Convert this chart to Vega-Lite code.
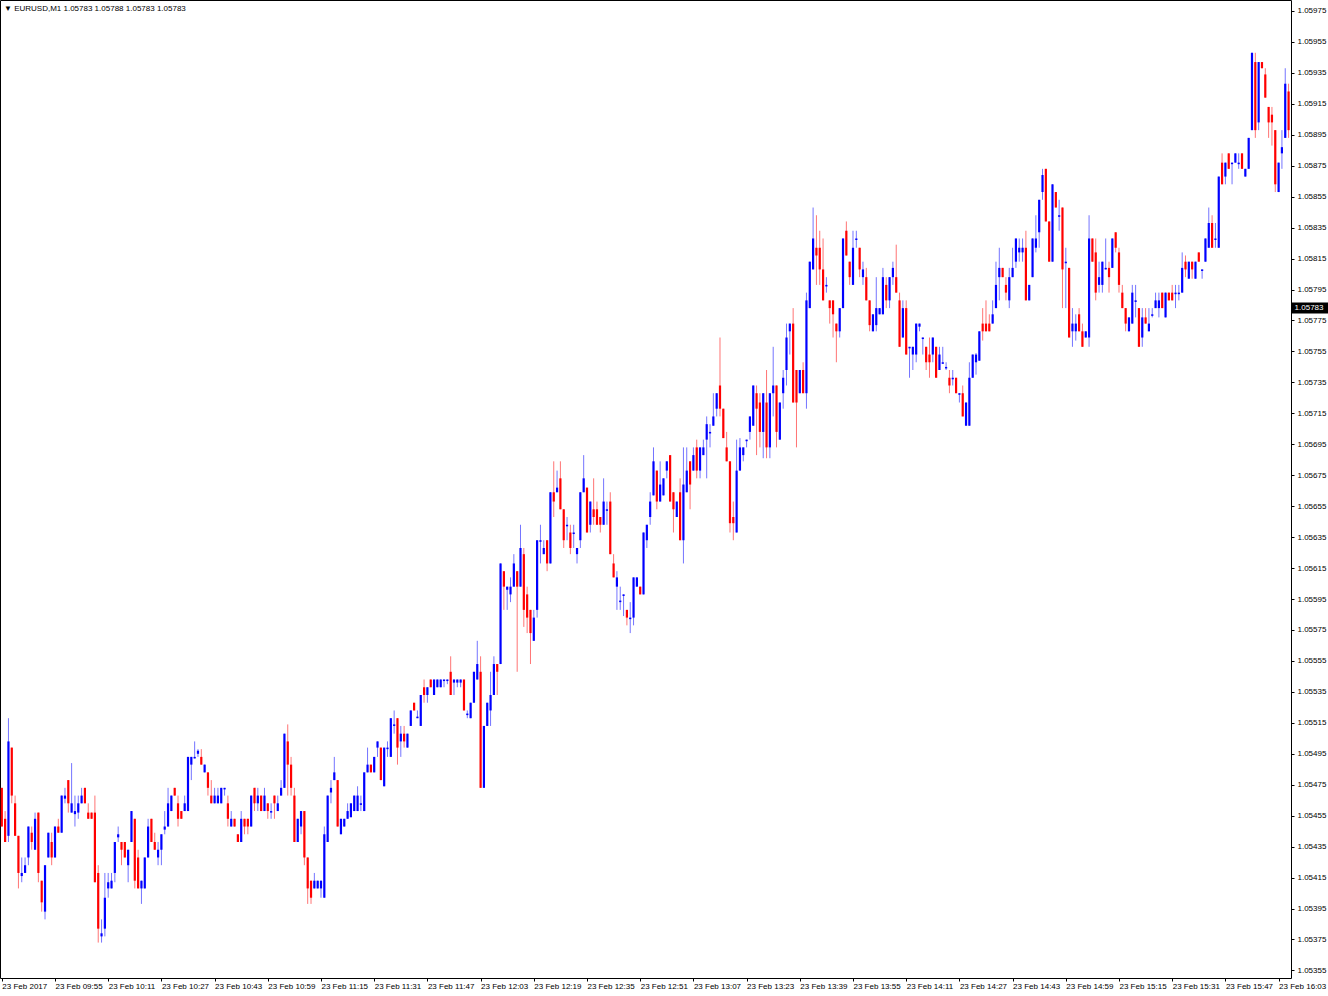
{
"$schema":"https://vega.github.io/schema/vega-lite/v6.json",
"width":1291,"height":978,
"autosize":{"type":"none"},
"padding":{"left":0,"top":0,"right":37,"bottom":18},
"background":"#ffffff",
"title":{"text":"▼ EURUSD,M1  1.05783 1.05788 1.05783 1.05783","anchor":"start","frame":"group","orient":"top","offset":-13,"fontSize":8,"font":"Liberation Sans","fontWeight":"normal","color":"#000000","dx":4},
"config":{"view":{"stroke":"#000000","strokeWidth":1},"font":"Liberation Sans","axis":{"labelFont":"Liberation Sans","labelFontSize":8,"labelColor":"#000000","tickColor":"#000000","domain":false,"grid":false,"title":null,"labelOverlap":false,"labelFlush":false,"labelBound":false}},
"data":{"values":[
{"t":0,"o":1.05473,"h":1.05473,"l":1.05448,"c":1.05448},
{"t":1,"o":1.05453,"h":1.05458,"l":1.05438,"c":1.05438},
{"t":2,"o":1.05442,"h":1.05518,"l":1.05438,"c":1.05503},
{"t":3,"o":1.05499,"h":1.05499,"l":1.05463,"c":1.05468},
{"t":4,"o":1.05463,"h":1.05468,"l":1.05442,"c":1.05442},
{"t":5,"o":1.05442,"h":1.05442,"l":1.05408,"c":1.05418},
{"t":6,"o":1.05416,"h":1.05428,"l":1.05412,"c":1.05418},
{"t":7,"o":1.05418,"h":1.05428,"l":1.05418,"c":1.05423},
{"t":8,"o":1.05428,"h":1.05448,"l":1.05423,"c":1.05448},
{"t":9,"o":1.05444,"h":1.05448,"l":1.05433,"c":1.05438},
{"t":10,"o":1.05433,"h":1.05457,"l":1.05433,"c":1.05453},
{"t":11,"o":1.05457,"h":1.05457,"l":1.05412,"c":1.05418},
{"t":12,"o":1.05413,"h":1.05413,"l":1.05393,"c":1.05399},
{"t":13,"o":1.05393,"h":1.05423,"l":1.05388,"c":1.05423},
{"t":14,"o":1.05428,"h":1.05444,"l":1.05428,"c":1.05444},
{"t":15,"o":1.05438,"h":1.05444,"l":1.05423,"c":1.05428},
{"t":16,"o":1.05428,"h":1.05448,"l":1.05428,"c":1.05448},
{"t":17,"o":1.05448,"h":1.05453,"l":1.05444,"c":1.05444},
{"t":18,"o":1.05444,"h":1.05468,"l":1.05444,"c":1.05468},
{"t":19,"o":1.05466,"h":1.05473,"l":1.05463,"c":1.05468},
{"t":20,"o":1.05478,"h":1.05478,"l":1.05457,"c":1.05463},
{"t":21,"o":1.05457,"h":1.05489,"l":1.05457,"c":1.05463},
{"t":22,"o":1.05456,"h":1.05468,"l":1.05448,"c":1.05458},
{"t":23,"o":1.05457,"h":1.05468,"l":1.05453,"c":1.05463},
{"t":24,"o":1.05463,"h":1.05473,"l":1.05463,"c":1.05468},
{"t":25,"o":1.05473,"h":1.05473,"l":1.05463,"c":1.05463},
{"t":26,"o":1.05457,"h":1.05463,"l":1.05453,"c":1.05453},
{"t":27,"o":1.05457,"h":1.05457,"l":1.05453,"c":1.05453},
{"t":28,"o":1.05457,"h":1.05468,"l":1.05412,"c":1.05412},
{"t":29,"o":1.05418,"h":1.05423,"l":1.05373,"c":1.05382},
{"t":30,"o":1.05377,"h":1.05388,"l":1.05373,"c":1.05379},
{"t":31,"o":1.05382,"h":1.05418,"l":1.05377,"c":1.05402},
{"t":32,"o":1.05408,"h":1.05418,"l":1.05402,"c":1.05412},
{"t":33,"o":1.05408,"h":1.05418,"l":1.05408,"c":1.05413},
{"t":34,"o":1.05418,"h":1.05438,"l":1.05412,"c":1.05438},
{"t":35,"o":1.05441,"h":1.05448,"l":1.05438,"c":1.05443},
{"t":36,"o":1.05438,"h":1.05438,"l":1.05423,"c":1.05433},
{"t":37,"o":1.05438,"h":1.05438,"l":1.05428,"c":1.05428},
{"t":38,"o":1.05423,"h":1.05433,"l":1.05412,"c":1.05433},
{"t":39,"o":1.05438,"h":1.05458,"l":1.05438,"c":1.05458},
{"t":40,"o":1.05453,"h":1.05453,"l":1.05408,"c":1.05413},
{"t":41,"o":1.05428,"h":1.05433,"l":1.05408,"c":1.05408},
{"t":42,"o":1.05408,"h":1.05413,"l":1.05398,"c":1.05413},
{"t":43,"o":1.05408,"h":1.05428,"l":1.05408,"c":1.05428},
{"t":44,"o":1.05428,"h":1.05453,"l":1.05428,"c":1.05448},
{"t":45,"o":1.05453,"h":1.05453,"l":1.05438,"c":1.05438},
{"t":46,"o":1.05438,"h":1.05444,"l":1.05433,"c":1.05433},
{"t":47,"o":1.05428,"h":1.05438,"l":1.05423,"c":1.05433},
{"t":48,"o":1.05433,"h":1.05443,"l":1.05423,"c":1.05443},
{"t":49,"o":1.05446,"h":1.05458,"l":1.05443,"c":1.05448},
{"t":50,"o":1.05448,"h":1.05473,"l":1.05448,"c":1.05463},
{"t":51,"o":1.05458,"h":1.05468,"l":1.05458,"c":1.05468},
{"t":52,"o":1.05473,"h":1.05473,"l":1.05468,"c":1.05468},
{"t":53,"o":1.05463,"h":1.05468,"l":1.05448,"c":1.05453},
{"t":54,"o":1.05458,"h":1.05458,"l":1.05453,"c":1.05453},
{"t":55,"o":1.05458,"h":1.05468,"l":1.05458,"c":1.05463},
{"t":56,"o":1.05458,"h":1.05493,"l":1.05458,"c":1.05493},
{"t":57,"o":1.05488,"h":1.05493,"l":1.05478,"c":1.05493},
{"t":58,"o":1.05492,"h":1.05503,"l":1.05492,"c":1.05493},
{"t":59,"o":1.05495,"h":1.05498,"l":1.05493,"c":1.05497},
{"t":60,"o":1.05493,"h":1.05498,"l":1.05488,"c":1.05488},
{"t":61,"o":1.05483,"h":1.05488,"l":1.05483,"c":1.05488},
{"t":62,"o":1.05483,"h":1.05483,"l":1.05468,"c":1.05473},
{"t":63,"o":1.05468,"h":1.05478,"l":1.05463,"c":1.05463},
{"t":64,"o":1.05463,"h":1.05473,"l":1.05463,"c":1.05468},
{"t":65,"o":1.05463,"h":1.05473,"l":1.05463,"c":1.05468},
{"t":66,"o":1.05463,"h":1.05473,"l":1.05463,"c":1.05473},
{"t":67,"o":1.05472,"h":1.05473,"l":1.05468,"c":1.05473},
{"t":68,"o":1.05463,"h":1.05468,"l":1.05448,"c":1.05453},
{"t":69,"o":1.05448,"h":1.05458,"l":1.05448,"c":1.05453},
{"t":70,"o":1.05453,"h":1.05453,"l":1.05448,"c":1.05448},
{"t":71,"o":1.05443,"h":1.05443,"l":1.05438,"c":1.05438},
{"t":72,"o":1.05438,"h":1.05458,"l":1.05438,"c":1.05453},
{"t":73,"o":1.05453,"h":1.05453,"l":1.05443,"c":1.05448},
{"t":74,"o":1.05453,"h":1.05453,"l":1.05443,"c":1.05448},
{"t":75,"o":1.05448,"h":1.05468,"l":1.05448,"c":1.05468},
{"t":76,"o":1.05473,"h":1.05473,"l":1.05458,"c":1.05463},
{"t":77,"o":1.05463,"h":1.05473,"l":1.05458,"c":1.05468},
{"t":78,"o":1.05468,"h":1.05468,"l":1.05458,"c":1.05458},
{"t":79,"o":1.05458,"h":1.05473,"l":1.05458,"c":1.05468},
{"t":80,"o":1.05463,"h":1.05463,"l":1.05453,"c":1.05458},
{"t":81,"o":1.05457,"h":1.05463,"l":1.05453,"c":1.05458},
{"t":82,"o":1.05468,"h":1.05468,"l":1.05453,"c":1.05463},
{"t":83,"o":1.05458,"h":1.05468,"l":1.05458,"c":1.05463},
{"t":84,"o":1.05468,"h":1.05478,"l":1.05468,"c":1.05473},
{"t":85,"o":1.05473,"h":1.05508,"l":1.05473,"c":1.05508},
{"t":86,"o":1.05503,"h":1.05514,"l":1.05468,"c":1.05488},
{"t":87,"o":1.05488,"h":1.05493,"l":1.05468,"c":1.05473},
{"t":88,"o":1.05468,"h":1.05473,"l":1.05438,"c":1.05438},
{"t":89,"o":1.05438,"h":1.05453,"l":1.05438,"c":1.05453},
{"t":90,"o":1.05448,"h":1.05458,"l":1.05443,"c":1.05458},
{"t":91,"o":1.05458,"h":1.05458,"l":1.05423,"c":1.05428},
{"t":92,"o":1.05428,"h":1.05428,"l":1.05398,"c":1.05408},
{"t":93,"o":1.05413,"h":1.05413,"l":1.05398,"c":1.05402},
{"t":94,"o":1.05408,"h":1.05418,"l":1.05408,"c":1.05413},
{"t":95,"o":1.05408,"h":1.05413,"l":1.05408,"c":1.05413},
{"t":96,"o":1.05408,"h":1.05413,"l":1.05402,"c":1.05413},
{"t":97,"o":1.05402,"h":1.05448,"l":1.05402,"c":1.05443},
{"t":98,"o":1.05438,"h":1.05468,"l":1.05438,"c":1.05468},
{"t":99,"o":1.05470,"h":1.05478,"l":1.05463,"c":1.05473},
{"t":100,"o":1.05478,"h":1.05493,"l":1.05478,"c":1.05483},
{"t":101,"o":1.05478,"h":1.05478,"l":1.05448,"c":1.05448},
{"t":102,"o":1.05443,"h":1.05453,"l":1.05443,"c":1.05453},
{"t":103,"o":1.05448,"h":1.05453,"l":1.05448,"c":1.05453},
{"t":104,"o":1.05453,"h":1.05463,"l":1.05453,"c":1.05458},
{"t":105,"o":1.05454,"h":1.05463,"l":1.05454,"c":1.05463},
{"t":106,"o":1.05458,"h":1.05468,"l":1.05458,"c":1.05468},
{"t":107,"o":1.05458,"h":1.05474,"l":1.05458,"c":1.05468},
{"t":108,"o":1.05462,"h":1.05468,"l":1.05458,"c":1.05463},
{"t":109,"o":1.05458,"h":1.05483,"l":1.05458,"c":1.05483},
{"t":110,"o":1.05483,"h":1.05499,"l":1.05483,"c":1.05488},
{"t":111,"o":1.05488,"h":1.05488,"l":1.05483,"c":1.05483},
{"t":112,"o":1.05483,"h":1.05493,"l":1.05483,"c":1.05493},
{"t":113,"o":1.05499,"h":1.05503,"l":1.05493,"c":1.05503},
{"t":114,"o":1.05499,"h":1.05499,"l":1.05478,"c":1.05478},
{"t":115,"o":1.05474,"h":1.05499,"l":1.05474,"c":1.05499},
{"t":116,"o":1.05498,"h":1.05503,"l":1.05493,"c":1.05499},
{"t":117,"o":1.05493,"h":1.05518,"l":1.05493,"c":1.05518},
{"t":118,"o":1.05513,"h":1.05523,"l":1.05508,"c":1.05514},
{"t":119,"o":1.05518,"h":1.05518,"l":1.05488,"c":1.05499},
{"t":120,"o":1.05503,"h":1.05513,"l":1.05493,"c":1.05508},
{"t":121,"o":1.05508,"h":1.05513,"l":1.05499,"c":1.05503},
{"t":122,"o":1.05499,"h":1.05508,"l":1.05499,"c":1.05508},
{"t":123,"o":1.05513,"h":1.05523,"l":1.05513,"c":1.05523},
{"t":124,"o":1.05528,"h":1.05528,"l":1.05523,"c":1.05523},
{"t":125,"o":1.05518,"h":1.05523,"l":1.05518,"c":1.05519},
{"t":126,"o":1.05513,"h":1.05533,"l":1.05513,"c":1.05533},
{"t":127,"o":1.05538,"h":1.05543,"l":1.05528,"c":1.05533},
{"t":128,"o":1.05533,"h":1.05538,"l":1.05528,"c":1.05538},
{"t":129,"o":1.05543,"h":1.05543,"l":1.05538,"c":1.05538},
{"t":130,"o":1.05533,"h":1.05543,"l":1.05533,"c":1.05543},
{"t":131,"o":1.05538,"h":1.05543,"l":1.05538,"c":1.05543},
{"t":132,"o":1.05538,"h":1.05543,"l":1.05538,"c":1.05543},
{"t":133,"o":1.05542,"h":1.05543,"l":1.05538,"c":1.05543},
{"t":134,"o":1.05542,"h":1.05543,"l":1.05540,"c":1.05543},
{"t":135,"o":1.05548,"h":1.05558,"l":1.05533,"c":1.05533},
{"t":136,"o":1.05541,"h":1.05543,"l":1.05533,"c":1.05543},
{"t":137,"o":1.05541,"h":1.05543,"l":1.05538,"c":1.05543},
{"t":138,"o":1.05541,"h":1.05543,"l":1.05538,"c":1.05543},
{"t":139,"o":1.05543,"h":1.05543,"l":1.05523,"c":1.05523},
{"t":140,"o":1.05520,"h":1.05523,"l":1.05518,"c":1.05521},
{"t":141,"o":1.05518,"h":1.05528,"l":1.05518,"c":1.05528},
{"t":142,"o":1.05528,"h":1.05548,"l":1.05528,"c":1.05548},
{"t":143,"o":1.05543,"h":1.05568,"l":1.05543,"c":1.05553},
{"t":144,"o":1.05548,"h":1.05558,"l":1.05473,"c":1.05473},
{"t":145,"o":1.05473,"h":1.05513,"l":1.05473,"c":1.05513},
{"t":146,"o":1.05513,"h":1.05528,"l":1.05513,"c":1.05528},
{"t":147,"o":1.05523,"h":1.05548,"l":1.05513,"c":1.05533},
{"t":148,"o":1.05533,"h":1.05558,"l":1.05533,"c":1.05553},
{"t":149,"o":1.05553,"h":1.05553,"l":1.05533,"c":1.05548},
{"t":150,"o":1.05553,"h":1.05618,"l":1.05553,"c":1.05618},
{"t":151,"o":1.05613,"h":1.05613,"l":1.05588,"c":1.05603},
{"t":152,"o":1.05601,"h":1.05603,"l":1.05588,"c":1.05603},
{"t":153,"o":1.05598,"h":1.05609,"l":1.05593,"c":1.05603},
{"t":154,"o":1.05603,"h":1.05624,"l":1.05603,"c":1.05618},
{"t":155,"o":1.05613,"h":1.05613,"l":1.05548,"c":1.05603},
{"t":156,"o":1.05603,"h":1.05643,"l":1.05603,"c":1.05628},
{"t":157,"o":1.05624,"h":1.05628,"l":1.05577,"c":1.05588},
{"t":158,"o":1.05598,"h":1.05603,"l":1.05573,"c":1.05583},
{"t":159,"o":1.05588,"h":1.05588,"l":1.05553,"c":1.05573},
{"t":160,"o":1.05568,"h":1.05588,"l":1.05568,"c":1.05583},
{"t":161,"o":1.05588,"h":1.05633,"l":1.05583,"c":1.05633},
{"t":162,"o":1.05632,"h":1.05643,"l":1.05618,"c":1.05633},
{"t":163,"o":1.05624,"h":1.05633,"l":1.05624,"c":1.05628},
{"t":164,"o":1.05633,"h":1.05633,"l":1.05613,"c":1.05618},
{"t":165,"o":1.05618,"h":1.05664,"l":1.05618,"c":1.05664},
{"t":166,"o":1.05664,"h":1.05684,"l":1.05648,"c":1.05658},
{"t":167,"o":1.05664,"h":1.05678,"l":1.05664,"c":1.05667},
{"t":168,"o":1.05673,"h":1.05684,"l":1.05653,"c":1.05653},
{"t":169,"o":1.05653,"h":1.05653,"l":1.05628,"c":1.05633},
{"t":170,"o":1.05642,"h":1.05648,"l":1.05633,"c":1.05643},
{"t":171,"o":1.05638,"h":1.05643,"l":1.05624,"c":1.05628},
{"t":172,"o":1.05637,"h":1.05643,"l":1.05628,"c":1.05638},
{"t":173,"o":1.05624,"h":1.05628,"l":1.05618,"c":1.05628},
{"t":174,"o":1.05633,"h":1.05664,"l":1.05628,"c":1.05664},
{"t":175,"o":1.05664,"h":1.05688,"l":1.05664,"c":1.05673},
{"t":176,"o":1.05667,"h":1.05667,"l":1.05638,"c":1.05638},
{"t":177,"o":1.05643,"h":1.05658,"l":1.05638,"c":1.05658},
{"t":178,"o":1.05653,"h":1.05673,"l":1.05643,"c":1.05648},
{"t":179,"o":1.05653,"h":1.05658,"l":1.05643,"c":1.05643},
{"t":180,"o":1.05648,"h":1.05648,"l":1.05638,"c":1.05643},
{"t":181,"o":1.05643,"h":1.05673,"l":1.05643,"c":1.05658},
{"t":182,"o":1.05652,"h":1.05658,"l":1.05643,"c":1.05653},
{"t":183,"o":1.05658,"h":1.05664,"l":1.05624,"c":1.05624},
{"t":184,"o":1.05618,"h":1.05624,"l":1.05609,"c":1.05609},
{"t":185,"o":1.05603,"h":1.05613,"l":1.05588,"c":1.05609},
{"t":186,"o":1.05593,"h":1.05603,"l":1.05588,"c":1.05594},
{"t":187,"o":1.05597,"h":1.05598,"l":1.05584,"c":1.05598},
{"t":188,"o":1.05588,"h":1.05588,"l":1.05578,"c":1.05583},
{"t":189,"o":1.05582,"h":1.05593,"l":1.05573,"c":1.05583},
{"t":190,"o":1.05583,"h":1.05609,"l":1.05578,"c":1.05609},
{"t":191,"o":1.05603,"h":1.05609,"l":1.05603,"c":1.05609},
{"t":192,"o":1.05603,"h":1.05603,"l":1.05598,"c":1.05598},
{"t":193,"o":1.05598,"h":1.05638,"l":1.05598,"c":1.05638},
{"t":194,"o":1.05633,"h":1.05643,"l":1.05628,"c":1.05643},
{"t":195,"o":1.05648,"h":1.05664,"l":1.05643,"c":1.05658},
{"t":196,"o":1.05662,"h":1.05693,"l":1.05662,"c":1.05684},
{"t":197,"o":1.05678,"h":1.05678,"l":1.05653,"c":1.05658},
{"t":198,"o":1.05658,"h":1.05684,"l":1.05658,"c":1.05669},
{"t":199,"o":1.05662,"h":1.05673,"l":1.05662,"c":1.05673},
{"t":200,"o":1.05678,"h":1.05684,"l":1.05673,"c":1.05684},
{"t":201,"o":1.05688,"h":1.05688,"l":1.05658,"c":1.05658},
{"t":202,"o":1.05664,"h":1.05664,"l":1.05638,"c":1.05653},
{"t":203,"o":1.05648,"h":1.05658,"l":1.05648,"c":1.05658},
{"t":204,"o":1.05664,"h":1.05673,"l":1.05633,"c":1.05633},
{"t":205,"o":1.05633,"h":1.05693,"l":1.05618,"c":1.05669},
{"t":206,"o":1.05664,"h":1.05693,"l":1.05664,"c":1.05678},
{"t":207,"o":1.05684,"h":1.05684,"l":1.05653,"c":1.05669},
{"t":208,"o":1.05678,"h":1.05693,"l":1.05678,"c":1.05688},
{"t":209,"o":1.05693,"h":1.05698,"l":1.05673,"c":1.05678},
{"t":210,"o":1.05678,"h":1.05693,"l":1.05673,"c":1.05693},
{"t":211,"o":1.05688,"h":1.05698,"l":1.05688,"c":1.05693},
{"t":212,"o":1.05698,"h":1.05713,"l":1.05673,"c":1.05708},
{"t":213,"o":1.05702,"h":1.05708,"l":1.05693,"c":1.05703},
{"t":214,"o":1.05707,"h":1.05728,"l":1.05707,"c":1.05713},
{"t":215,"o":1.05718,"h":1.05728,"l":1.05713,"c":1.05728},
{"t":216,"o":1.05733,"h":1.05764,"l":1.05713,"c":1.05718},
{"t":217,"o":1.05718,"h":1.05718,"l":1.05699,"c":1.05699},
{"t":218,"o":1.05693,"h":1.05703,"l":1.05684,"c":1.05684},
{"t":219,"o":1.05684,"h":1.05684,"l":1.05638,"c":1.05644},
{"t":220,"o":1.05648,"h":1.05658,"l":1.05633,"c":1.05644},
{"t":221,"o":1.05638,"h":1.05698,"l":1.05638,"c":1.05678},
{"t":222,"o":1.05678,"h":1.05699,"l":1.05678,"c":1.05693},
{"t":223,"o":1.05688,"h":1.05693,"l":1.05684,"c":1.05693},
{"t":224,"o":1.05697,"h":1.05698,"l":1.05693,"c":1.05698},
{"t":225,"o":1.05703,"h":1.05713,"l":1.05698,"c":1.05713},
{"t":226,"o":1.05707,"h":1.05733,"l":1.05707,"c":1.05733},
{"t":227,"o":1.05728,"h":1.05733,"l":1.05688,"c":1.05718},
{"t":228,"o":1.05722,"h":1.05728,"l":1.05693,"c":1.05703},
{"t":229,"o":1.05703,"h":1.05728,"l":1.05686,"c":1.05728},
{"t":230,"o":1.05722,"h":1.05743,"l":1.05686,"c":1.05693},
{"t":231,"o":1.05693,"h":1.05728,"l":1.05686,"c":1.05728},
{"t":232,"o":1.05728,"h":1.05758,"l":1.05713,"c":1.05733},
{"t":233,"o":1.05733,"h":1.05733,"l":1.05693,"c":1.05703},
{"t":234,"o":1.05698,"h":1.05722,"l":1.05698,"c":1.05722},
{"t":235,"o":1.05728,"h":1.05743,"l":1.05718,"c":1.05738},
{"t":236,"o":1.05743,"h":1.05773,"l":1.05733,"c":1.05764},
{"t":237,"o":1.05768,"h":1.05773,"l":1.05753,"c":1.05773},
{"t":238,"o":1.05773,"h":1.05783,"l":1.05722,"c":1.05722},
{"t":239,"o":1.05743,"h":1.05743,"l":1.05693,"c":1.05722},
{"t":240,"o":1.05728,"h":1.05743,"l":1.05728,"c":1.05743},
{"t":241,"o":1.05743,"h":1.05748,"l":1.05728,"c":1.05728},
{"t":242,"o":1.05728,"h":1.05793,"l":1.05718,"c":1.05788},
{"t":243,"o":1.05783,"h":1.05813,"l":1.05783,"c":1.05813},
{"t":244,"o":1.05808,"h":1.05848,"l":1.05808,"c":1.05828},
{"t":245,"o":1.05822,"h":1.05843,"l":1.05798,"c":1.05817},
{"t":246,"o":1.05822,"h":1.05833,"l":1.05798,"c":1.05808},
{"t":247,"o":1.05808,"h":1.05828,"l":1.05788,"c":1.05788},
{"t":248,"o":1.05797,"h":1.05803,"l":1.05793,"c":1.05798},
{"t":249,"o":1.05788,"h":1.05788,"l":1.05773,"c":1.05783},
{"t":250,"o":1.05788,"h":1.05788,"l":1.05764,"c":1.05779},
{"t":251,"o":1.05773,"h":1.05773,"l":1.05748,"c":1.05768},
{"t":252,"o":1.05768,"h":1.05783,"l":1.05764,"c":1.05783},
{"t":253,"o":1.05783,"h":1.05828,"l":1.05783,"c":1.05828},
{"t":254,"o":1.05833,"h":1.05839,"l":1.05817,"c":1.05817},
{"t":255,"o":1.05813,"h":1.05813,"l":1.05798,"c":1.05803},
{"t":256,"o":1.05798,"h":1.05833,"l":1.05798,"c":1.05822},
{"t":257,"o":1.05827,"h":1.05833,"l":1.05822,"c":1.05828},
{"t":258,"o":1.05822,"h":1.05822,"l":1.05803,"c":1.05808},
{"t":259,"o":1.05803,"h":1.05813,"l":1.05798,"c":1.05808},
{"t":260,"o":1.05803,"h":1.05809,"l":1.05788,"c":1.05788},
{"t":261,"o":1.05788,"h":1.05788,"l":1.05768,"c":1.05772},
{"t":262,"o":1.05768,"h":1.05779,"l":1.05768,"c":1.05779},
{"t":263,"o":1.05772,"h":1.05803,"l":1.05768,"c":1.05783},
{"t":264,"o":1.05779,"h":1.05783,"l":1.05779,"c":1.05783},
{"t":265,"o":1.05779,"h":1.05809,"l":1.05779,"c":1.05803},
{"t":266,"o":1.05798,"h":1.05803,"l":1.05783,"c":1.05788},
{"t":267,"o":1.05788,"h":1.05803,"l":1.05783,"c":1.05803},
{"t":268,"o":1.05803,"h":1.05813,"l":1.05798,"c":1.05809},
{"t":269,"o":1.05803,"h":1.05824,"l":1.05793,"c":1.05793},
{"t":270,"o":1.05788,"h":1.05793,"l":1.05758,"c":1.05758},
{"t":271,"o":1.05764,"h":1.05788,"l":1.05764,"c":1.05783},
{"t":272,"o":1.05783,"h":1.05788,"l":1.05753,"c":1.05753},
{"t":273,"o":1.05757,"h":1.05758,"l":1.05738,"c":1.05758},
{"t":274,"o":1.05753,"h":1.05758,"l":1.05743,"c":1.05758},
{"t":275,"o":1.05753,"h":1.05773,"l":1.05748,"c":1.05773},
{"t":276,"o":1.05771,"h":1.05773,"l":1.05768,"c":1.05773},
{"t":277,"o":1.05763,"h":1.05764,"l":1.05753,"c":1.05764},
{"t":278,"o":1.05758,"h":1.05758,"l":1.05743,"c":1.05748},
{"t":279,"o":1.05753,"h":1.05764,"l":1.05738,"c":1.05748},
{"t":280,"o":1.05753,"h":1.05764,"l":1.05748,"c":1.05764},
{"t":281,"o":1.05758,"h":1.05758,"l":1.05738,"c":1.05738},
{"t":282,"o":1.05743,"h":1.05758,"l":1.05743,"c":1.05753},
{"t":283,"o":1.05747,"h":1.05758,"l":1.05747,"c":1.05748},
{"t":284,"o":1.05744,"h":1.05748,"l":1.05743,"c":1.05745},
{"t":285,"o":1.05738,"h":1.05743,"l":1.05728,"c":1.05733},
{"t":286,"o":1.05737,"h":1.05743,"l":1.05733,"c":1.05738},
{"t":287,"o":1.05738,"h":1.05738,"l":1.05728,"c":1.05728},
{"t":288,"o":1.05727,"h":1.05728,"l":1.05722,"c":1.05728},
{"t":289,"o":1.05728,"h":1.05733,"l":1.05713,"c":1.05713},
{"t":290,"o":1.05707,"h":1.05722,"l":1.05707,"c":1.05722},
{"t":291,"o":1.05707,"h":1.05748,"l":1.05707,"c":1.05738},
{"t":292,"o":1.05738,"h":1.05753,"l":1.05738,"c":1.05753},
{"t":293,"o":1.05748,"h":1.05754,"l":1.05740,"c":1.05753},
{"t":294,"o":1.05749,"h":1.05768,"l":1.05749,"c":1.05768},
{"t":295,"o":1.05773,"h":1.05783,"l":1.05762,"c":1.05768},
{"t":296,"o":1.05773,"h":1.05788,"l":1.05768,"c":1.05768},
{"t":297,"o":1.05773,"h":1.05779,"l":1.05768,"c":1.05768},
{"t":298,"o":1.05773,"h":1.05788,"l":1.05773,"c":1.05779},
{"t":299,"o":1.05783,"h":1.05813,"l":1.05783,"c":1.05798},
{"t":300,"o":1.05803,"h":1.05822,"l":1.05788,"c":1.05809},
{"t":301,"o":1.05809,"h":1.05809,"l":1.05803,"c":1.05803},
{"t":302,"o":1.05798,"h":1.05803,"l":1.05788,"c":1.05793},
{"t":303,"o":1.05788,"h":1.05809,"l":1.05783,"c":1.05803},
{"t":304,"o":1.05803,"h":1.05822,"l":1.05803,"c":1.05809},
{"t":305,"o":1.05813,"h":1.05828,"l":1.05809,"c":1.05828},
{"t":306,"o":1.05819,"h":1.05828,"l":1.05813,"c":1.05822},
{"t":307,"o":1.05819,"h":1.05828,"l":1.05813,"c":1.05822},
{"t":308,"o":1.05822,"h":1.05833,"l":1.05788,"c":1.05788},
{"t":309,"o":1.05788,"h":1.05798,"l":1.05788,"c":1.05798},
{"t":310,"o":1.05803,"h":1.05828,"l":1.05803,"c":1.05828},
{"t":311,"o":1.05822,"h":1.05843,"l":1.05819,"c":1.05828},
{"t":312,"o":1.05832,"h":1.05853,"l":1.05822,"c":1.05853},
{"t":313,"o":1.05858,"h":1.05873,"l":1.05853,"c":1.05869},
{"t":314,"o":1.05873,"h":1.05873,"l":1.05839,"c":1.05839},
{"t":315,"o":1.05839,"h":1.05839,"l":1.05813,"c":1.05813},
{"t":316,"o":1.05813,"h":1.05863,"l":1.05813,"c":1.05863},
{"t":317,"o":1.05858,"h":1.05858,"l":1.05848,"c":1.05848},
{"t":318,"o":1.05842,"h":1.05853,"l":1.05833,"c":1.05843},
{"t":319,"o":1.05848,"h":1.05848,"l":1.05783,"c":1.05808},
{"t":320,"o":1.05812,"h":1.05822,"l":1.05783,"c":1.05813},
{"t":321,"o":1.05809,"h":1.05809,"l":1.05764,"c":1.05764},
{"t":322,"o":1.05768,"h":1.05783,"l":1.05758,"c":1.05773},
{"t":323,"o":1.05768,"h":1.05779,"l":1.05762,"c":1.05773},
{"t":324,"o":1.05779,"h":1.05783,"l":1.05768,"c":1.05768},
{"t":325,"o":1.05768,"h":1.05773,"l":1.05758,"c":1.05758},
{"t":326,"o":1.05764,"h":1.05768,"l":1.05764,"c":1.05768},
{"t":327,"o":1.05764,"h":1.05843,"l":1.05758,"c":1.05828},
{"t":328,"o":1.05828,"h":1.05828,"l":1.05813,"c":1.05813},
{"t":329,"o":1.05819,"h":1.05828,"l":1.05788,"c":1.05793},
{"t":330,"o":1.05798,"h":1.05813,"l":1.05793,"c":1.05803},
{"t":331,"o":1.05798,"h":1.05813,"l":1.05793,"c":1.05813},
{"t":332,"o":1.05808,"h":1.05828,"l":1.05808,"c":1.05809},
{"t":333,"o":1.05809,"h":1.05813,"l":1.05793,"c":1.05803},
{"t":334,"o":1.05809,"h":1.05828,"l":1.05809,"c":1.05828},
{"t":335,"o":1.05832,"h":1.05832,"l":1.05819,"c":1.05822},
{"t":336,"o":1.05819,"h":1.05822,"l":1.05793,"c":1.05798},
{"t":337,"o":1.05793,"h":1.05798,"l":1.05783,"c":1.05783},
{"t":338,"o":1.05783,"h":1.05783,"l":1.05768,"c":1.05773},
{"t":339,"o":1.05768,"h":1.05777,"l":1.05768,"c":1.05777},
{"t":340,"o":1.05773,"h":1.05798,"l":1.05773,"c":1.05793},
{"t":341,"o":1.05787,"h":1.05798,"l":1.05777,"c":1.05788},
{"t":342,"o":1.05783,"h":1.05783,"l":1.05758,"c":1.05758},
{"t":343,"o":1.05764,"h":1.05783,"l":1.05758,"c":1.05777},
{"t":344,"o":1.05777,"h":1.05783,"l":1.05773,"c":1.05773},
{"t":345,"o":1.05768,"h":1.05783,"l":1.05768,"c":1.05773},
{"t":346,"o":1.05778,"h":1.05783,"l":1.05777,"c":1.05779},
{"t":347,"o":1.05783,"h":1.05793,"l":1.05783,"c":1.05788},
{"t":348,"o":1.05783,"h":1.05793,"l":1.05777,"c":1.05788},
{"t":349,"o":1.05793,"h":1.05793,"l":1.05783,"c":1.05783},
{"t":350,"o":1.05777,"h":1.05793,"l":1.05777,"c":1.05793},
{"t":351,"o":1.05793,"h":1.05793,"l":1.05788,"c":1.05788},
{"t":352,"o":1.05793,"h":1.05798,"l":1.05788,"c":1.05788},
{"t":353,"o":1.05792,"h":1.05798,"l":1.05783,"c":1.05793},
{"t":354,"o":1.05792,"h":1.05798,"l":1.05788,"c":1.05793},
{"t":355,"o":1.05793,"h":1.05819,"l":1.05793,"c":1.05809},
{"t":356,"o":1.05813,"h":1.05817,"l":1.05803,"c":1.05808},
{"t":357,"o":1.05802,"h":1.05813,"l":1.05802,"c":1.05813},
{"t":358,"o":1.05813,"h":1.05813,"l":1.05802,"c":1.05808},
{"t":359,"o":1.05802,"h":1.05813,"l":1.05802,"c":1.05813},
{"t":360,"o":1.05819,"h":1.05819,"l":1.05813,"c":1.05813},
{"t":361,"o":1.05807,"h":1.05808,"l":1.05802,"c":1.05808},
{"t":362,"o":1.05813,"h":1.05828,"l":1.05813,"c":1.05828},
{"t":363,"o":1.05822,"h":1.05848,"l":1.05822,"c":1.05838},
{"t":364,"o":1.05838,"h":1.05843,"l":1.05822,"c":1.05822},
{"t":365,"o":1.05827,"h":1.05838,"l":1.05822,"c":1.05828},
{"t":366,"o":1.05822,"h":1.05868,"l":1.05822,"c":1.05868},
{"t":367,"o":1.05877,"h":1.05883,"l":1.05863,"c":1.05863},
{"t":368,"o":1.05868,"h":1.05877,"l":1.05863,"c":1.05877},
{"t":369,"o":1.05883,"h":1.05883,"l":1.05873,"c":1.05873},
{"t":370,"o":1.05876,"h":1.05877,"l":1.05863,"c":1.05877},
{"t":371,"o":1.05877,"h":1.05883,"l":1.05877,"c":1.05883},
{"t":372,"o":1.05876,"h":1.05883,"l":1.05873,"c":1.05877},
{"t":373,"o":1.05883,"h":1.05883,"l":1.05873,"c":1.05873},
{"t":374,"o":1.05868,"h":1.05873,"l":1.05868,"c":1.05873},
{"t":375,"o":1.05873,"h":1.05893,"l":1.05873,"c":1.05893},
{"t":376,"o":1.05898,"h":1.05948,"l":1.05898,"c":1.05948},
{"t":377,"o":1.05942,"h":1.05948,"l":1.05893,"c":1.05898},
{"t":378,"o":1.05903,"h":1.05942,"l":1.05898,"c":1.05942},
{"t":379,"o":1.05942,"h":1.05942,"l":1.05938,"c":1.05938},
{"t":380,"o":1.05934,"h":1.05938,"l":1.05919,"c":1.05919},
{"t":381,"o":1.05913,"h":1.05913,"l":1.05893,"c":1.05903},
{"t":382,"o":1.05908,"h":1.05913,"l":1.05888,"c":1.05903},
{"t":383,"o":1.05898,"h":1.05898,"l":1.05858,"c":1.05863},
{"t":384,"o":1.05858,"h":1.05877,"l":1.05858,"c":1.05877},
{"t":385,"o":1.05883,"h":1.05898,"l":1.05873,"c":1.05887},
{"t":386,"o":1.05893,"h":1.05938,"l":1.05893,"c":1.05928},
{"t":387,"o":1.05923,"h":1.05928,"l":1.05893,"c":1.05898}
]},
"encoding":{
"x":{"field":"t","type":"quantitative","scale":{"domain":[-0.541,387.73],"nice":false,"zero":false},
"axis":{"orient":"bottom","values":[0,16,32,48,64,80,96,112,128,144,160,176,192,208,224,240,256,272,288,304,320,336,352,368,384],"tickCount":60,"tickSize":3,"labelPadding":1,"labelAlign":"left","labelBaseline":"top","labelOverlap":false,"labelExpr":"datum.value == 0 ? '23 Feb 2017' : '23 Feb ' + (floor((579+datum.value)/60) < 10 ? '0' : '') + floor((579+datum.value)/60) + ':' + ((579+datum.value)%60 < 10 ? '0' : '') + ((579+datum.value)%60)"}},
"color":{"condition":{"test":"datum.c >= datum.o","value":"#0000ff"},"value":"#ff0000"}
},
"layer":[
{"mark":{"type":"rule","strokeWidth":1,"opacity":0.55},
"encoding":{"y":{"field":"l","type":"quantitative","scale":{"domain":[1.0535012,1.059821],"nice":false,"zero":false},
"axis":{"orient":"right","values":[1.05355,1.05375,1.05395,1.05415,1.05435,1.05455,1.05475,1.05495,1.05515,1.05535,1.05555,1.05575,1.05595,1.05615,1.05635,1.05655,1.05675,1.05695,1.05715,1.05735,1.05755,1.05775,1.05795,1.05815,1.05835,1.05855,1.05875,1.05895,1.05915,1.05935,1.05955,1.05975],"tickCount":60,"format":".5f","tickSize":3,"labelPadding":3,"labelAlign":"left","labelBaseline":"middle","labelOverlap":false}},
"y2":{"field":"h"}}},
{"mark":{"type":"rule","strokeWidth":2.2,"strokeCap":"butt"},
"encoding":{"y":{"field":"o","type":"quantitative"},"y2":{"field":"c"}}},
{"data":{"values":[{"price":1.05783,"from":387.9,"to":398.9}]},
"mark":{"type":"rule","strokeWidth":11,"color":"#000000","strokeCap":"butt"},
"encoding":{"x":{"field":"from","type":"quantitative"},"x2":{"field":"to"},"y":{"field":"price","type":"quantitative"},"color":{"value":"#000000"}}},
{"data":{"values":[{"price":1.05783,"from":387.9}]},
"mark":{"type":"text","align":"left","baseline":"middle","fontSize":8,"dx":3,"font":"Liberation Sans"},
"encoding":{"x":{"field":"from","type":"quantitative"},"y":{"field":"price","type":"quantitative"},"text":{"field":"price","type":"quantitative","format":".5f"},"color":{"value":"#ffffff"}}}
]
}
